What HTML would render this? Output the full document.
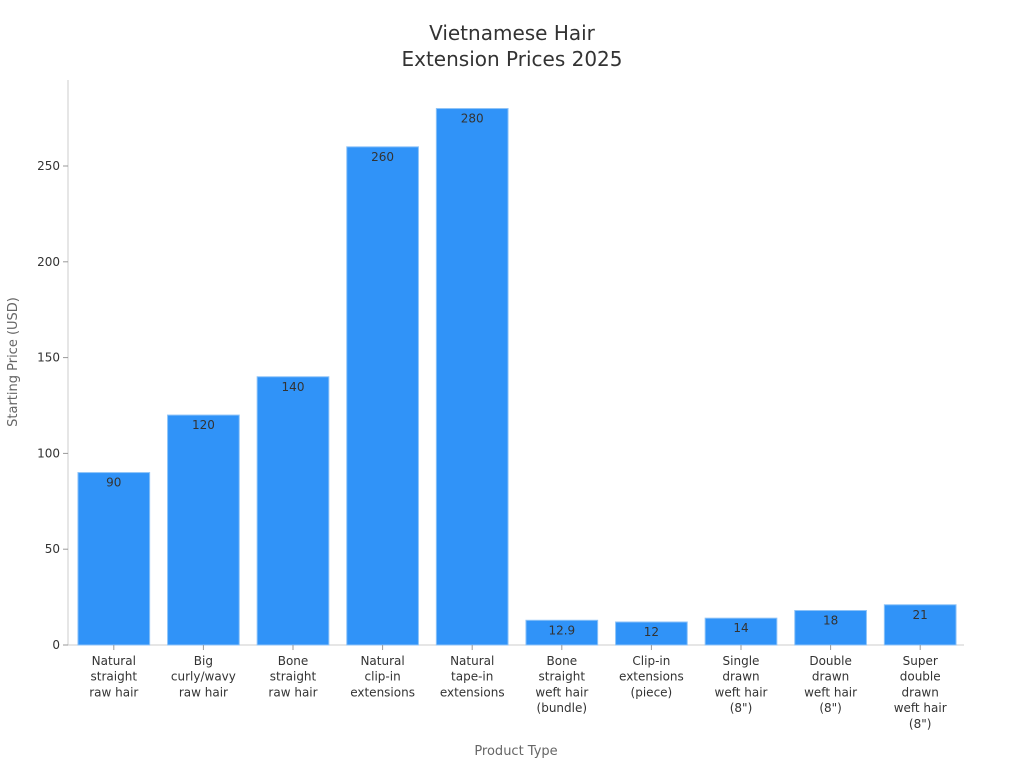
<!DOCTYPE html>
<html><head><meta charset="utf-8"><style>
body{margin:0;background:#fff;font-family:"Liberation Sans","DejaVu Sans",sans-serif;}
svg text{font-family:"DejaVu Sans","Liberation Sans",sans-serif;}
</style></head><body>
<svg id="chart" width="1024" height="768" viewBox="0 0 1024 768" xmlns="http://www.w3.org/2000/svg">
<text x="512" y="40" text-anchor="middle" font-size="20" fill="#333">Vietnamese Hair</text>
<text x="512" y="66" text-anchor="middle" font-size="20" fill="#333">Extension Prices 2025</text>
<text transform="translate(17,362) rotate(-90)" text-anchor="middle" font-size="13" fill="#666">Starting Price (USD)</text>
<text x="516" y="755" text-anchor="middle" font-size="13" fill="#666">Product Type</text>
<g id="plot"></g>
</svg>
<script>
const categories=[["Natural","straight","raw hair"],["Big","curly/wavy","raw hair"],["Bone","straight","raw hair"],["Natural","clip-in","extensions"],["Natural","tape-in","extensions"],["Bone","straight","weft hair","(bundle)"],["Clip-in","extensions","(piece)"],["Single","drawn","weft hair","(8\")"],["Double","drawn","weft hair","(8\")"],["Super","double","drawn","weft hair","(8\")"]];
const values=[90,120,140,260,280,12.9,12,14,18,21];
const valueLabels=["90","120","140","260","280","12.9","12","14","18","21"];
const yTicks=[0,50,100,150,200,250];
const NS="http://www.w3.org/2000/svg";
const g=document.getElementById('plot');
const x0=68,x1=964,yBase=645,pxPerUnit=(645-166)/250;
const band=(x1-x0)/categories.length;
const y=v=>yBase-v*pxPerUnit;
const xc=i=>x0+1+band*(i+0.5);
function mk(t,a){const e=document.createElementNS(NS,t);for(const k in a)e.setAttribute(k,a[k]);g.appendChild(e);return e;}
let ax=mk('line',{x1:x0,y1:80,x2:x0,y2:yBase,stroke:'#ccc'});


let bx=mk('line',{x1:x0,y1:yBase,x2:x1,y2:yBase,stroke:'#ccc'});


yTicks.forEach(t=>{
 const tk=mk('line',{x1:x0-5,y1:y(t),x2:x0,y2:y(t),stroke:'#999'});
 
 
 const tl=mk('text',{x:x0-8,y:y(t)+4,'text-anchor':'end','font-size':12,fill:'#333'});
 tl.textContent=t;
 
 
});
values.forEach((v,i)=>{
 const w=band*0.8;
 const r=mk('rect',{x:xc(i)-w/2,y:y(v),width:w,height:yBase-y(v),fill:'#3093f8',stroke:'#8cc2f7','stroke-width':1});
 
 
 const vl=mk('text',{x:xc(i),y:y(v)+14,'text-anchor':'middle','font-size':12,fill:'#333'});
 vl.textContent=valueLabels[i];
 
 
 const tk=mk('line',{x1:xc(i),y1:yBase,x2:xc(i),y2:yBase+5,stroke:'#999'});
 
 
 categories[i].forEach((line,j)=>{
  const cl=mk('text',{x:xc(i),y:665+j*15.7,'text-anchor':'middle','font-size':12,fill:'#333'});
  cl.textContent=line;
  
  
 });
});
</script>
</body></html>
